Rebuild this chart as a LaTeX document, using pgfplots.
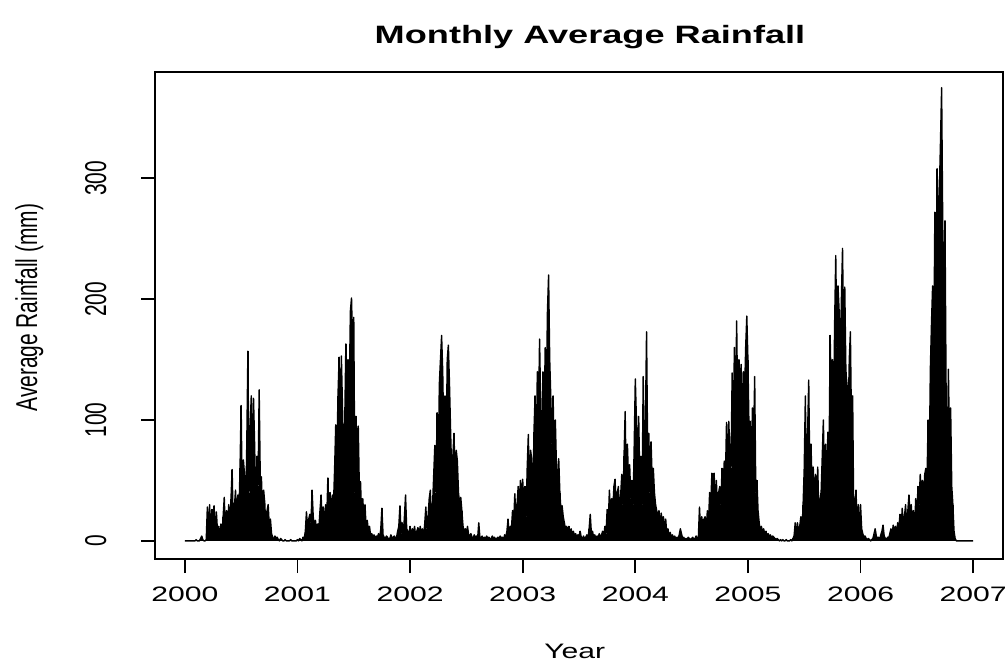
\documentclass[border=0pt]{standalone}
\usepackage{fontspec}
\setmainfont{Liberation Sans}
\usepackage{graphicx}
\usepackage{pgfplots}
\usepackage{pgfplotstable}
\pgfplotsset{compat=1.18}

% R-style device text is set wide
\newcommand\wide[1]{\scalebox{1.44}[1]{#1}}
\newcommand\tall[1]{\scalebox{1}[1.44]{#1}}

% Rainfall (mm), one value every 0.01 year from 2000.00 to 2007.00
\pgfplotstableread[row sep=\\]{
mm\\
0\\ 0\\ 0\\ 0\\ 0\\ 0\\ 0\\ 0\\ 0\\ 0\\
1\\ 0\\ 0\\ 0\\ 2\\ 4\\ 1\\ 0\\ 0\\ 1\\
28\\ 6\\ 30\\ 4\\ 26\\ 10\\ 29\\ 3\\ 24\\ 8\\
12\\ 2\\ 14\\ 5\\ 20\\ 36\\ 8\\ 25\\ 14\\ 30\\
10\\ 35\\ 59\\ 12\\ 28\\ 42\\ 15\\ 38\\ 20\\ 60\\
112\\ 30\\ 67\\ 55\\ 18\\ 80\\ 157\\ 40\\ 95\\ 120\\
60\\ 118\\ 78\\ 25\\ 70\\ 45\\ 125\\ 50\\ 53\\ 20\\
42\\ 31\\ 8\\ 25\\ 30\\ 12\\ 18\\ 6\\ 3\\ 1\\
4\\ 2\\ 3\\ 1\\ 0\\ 2\\ 1\\ 0\\ 0\\ 1\\
0\\ 0\\ 0\\ 0\\ 1\\ 0\\ 0\\ 0\\ 0\\ 0\\
1\\ 0\\ 2\\ 1\\ 0\\ 3\\ 2\\ 8\\ 24\\ 10\\
18\\ 22\\ 15\\ 42\\ 20\\ 12\\ 17\\ 8\\ 14\\ 10\\
25\\ 38\\ 15\\ 28\\ 10\\ 30\\ 18\\ 52\\ 22\\ 40\\
20\\ 38\\ 30\\ 60\\ 96\\ 70\\ 120\\ 152\\ 90\\ 153\\
110\\ 60\\ 100\\ 163\\ 130\\ 150\\ 120\\ 190\\ 201\\ 160\\
185\\ 40\\ 103\\ 70\\ 95\\ 40\\ 49\\ 20\\ 35\\ 18\\
30\\ 10\\ 17\\ 8\\ 12\\ 4\\ 6\\ 3\\ 5\\ 2\\
4\\ 3\\ 6\\ 2\\ 10\\ 27\\ 5\\ 3\\ 2\\ 4\\
3\\ 1\\ 2\\ 5\\ 2\\ 3\\ 4\\ 2\\ 3\\ 8\\
12\\ 29\\ 6\\ 15\\ 4\\ 20\\ 38\\ 10\\ 8\\ 5\\
12\\ 4\\ 10\\ 6\\ 12\\ 3\\ 8\\ 11\\ 5\\ 12\\
6\\ 10\\ 4\\ 14\\ 28\\ 10\\ 20\\ 35\\ 42\\ 15\\
30\\ 55\\ 79\\ 40\\ 106\\ 60\\ 130\\ 150\\ 170\\ 140\\
80\\ 120\\ 70\\ 150\\ 162\\ 130\\ 90\\ 55\\ 70\\ 89\\
50\\ 75\\ 66\\ 40\\ 30\\ 36\\ 25\\ 12\\ 8\\ 10\\
6\\ 12\\ 5\\ 4\\ 6\\ 3\\ 2\\ 5\\ 3\\ 4\\
2\\ 15\\ 3\\ 2\\ 4\\ 1\\ 3\\ 2\\ 4\\ 2\\
3\\ 1\\ 2\\ 4\\ 2\\ 3\\ 1\\ 2\\ 3\\ 2\\
4\\ 2\\ 3\\ 1\\ 5\\ 3\\ 8\\ 18\\ 4\\ 12\\
10\\ 25\\ 15\\ 39\\ 20\\ 30\\ 45\\ 28\\ 50\\ 35\\
51\\ 30\\ 45\\ 20\\ 60\\ 88\\ 40\\ 75\\ 68\\ 30\\
90\\ 120\\ 60\\ 140\\ 100\\ 167\\ 110\\ 70\\ 140\\ 95\\
160\\ 120\\ 190\\ 220\\ 150\\ 117\\ 80\\ 120\\ 70\\ 100\\
60\\ 50\\ 68\\ 40\\ 25\\ 29\\ 20\\ 15\\ 10\\ 12\\
8\\ 12\\ 6\\ 10\\ 5\\ 8\\ 4\\ 6\\ 3\\ 5\\
4\\ 8\\ 3\\ 2\\ 4\\ 2\\ 3\\ 5\\ 2\\ 10\\
22\\ 6\\ 8\\ 3\\ 5\\ 2\\ 4\\ 3\\ 6\\ 2\\
5\\ 8\\ 3\\ 12\\ 6\\ 26\\ 15\\ 42\\ 20\\ 35\\
25\\ 45\\ 51\\ 30\\ 40\\ 45\\ 20\\ 38\\ 55\\ 30\\
70\\ 107\\ 40\\ 80\\ 50\\ 63\\ 35\\ 50\\ 30\\ 77\\
134\\ 100\\ 60\\ 103\\ 50\\ 70\\ 30\\ 136\\ 60\\ 100\\
173\\ 70\\ 89\\ 40\\ 82\\ 50\\ 60\\ 40\\ 30\\ 25\\
20\\ 25\\ 12\\ 23\\ 15\\ 20\\ 8\\ 18\\ 5\\ 10\\
4\\ 7\\ 3\\ 5\\ 2\\ 4\\ 1\\ 3\\ 2\\ 5\\
10\\ 6\\ 2\\ 3\\ 1\\ 2\\ 1\\ 3\\ 2\\ 1\\
2\\ 3\\ 1\\ 2\\ 4\\ 2\\ 3\\ 28\\ 8\\ 20\\
12\\ 18\\ 20\\ 10\\ 25\\ 15\\ 40\\ 30\\ 56\\ 20\\
56\\ 30\\ 50\\ 25\\ 40\\ 45\\ 30\\ 60\\ 45\\ 66\\
50\\ 98\\ 60\\ 99\\ 72\\ 60\\ 139\\ 90\\ 160\\ 110\\
182\\ 100\\ 150\\ 130\\ 146\\ 90\\ 140\\ 120\\ 160\\ 186\\
150\\ 90\\ 99\\ 60\\ 110\\ 80\\ 136\\ 40\\ 50\\ 25\\
15\\ 8\\ 12\\ 6\\ 10\\ 5\\ 8\\ 4\\ 6\\ 3\\
5\\ 2\\ 4\\ 3\\ 2\\ 1\\ 2\\ 1\\ 0\\ 1\\
0\\ 1\\ 0\\ 0\\ 1\\ 0\\ 0\\ 0\\ 1\\ 0\\
2\\ 4\\ 15\\ 3\\ 15\\ 6\\ 12\\ 20\\ 8\\ 30\\
60\\ 120\\ 40\\ 90\\ 133\\ 50\\ 80\\ 45\\ 61\\ 30\\
55\\ 35\\ 61\\ 20\\ 34\\ 40\\ 70\\ 100\\ 45\\ 80\\
50\\ 90\\ 60\\ 170\\ 120\\ 150\\ 100\\ 180\\ 236\\ 160\\
211\\ 190\\ 150\\ 200\\ 242\\ 170\\ 210\\ 140\\ 129\\ 100\\
150\\ 173\\ 90\\ 120\\ 15\\ 30\\ 42\\ 10\\ 30\\ 5\\
30\\ 10\\ 6\\ 3\\ 4\\ 2\\ 1\\ 2\\ 1\\ 0\\
1\\ 2\\ 6\\ 10\\ 4\\ 2\\ 3\\ 1\\ 5\\ 8\\
13\\ 4\\ 2\\ 1\\ 3\\ 2\\ 6\\ 10\\ 5\\ 13\\
8\\ 12\\ 6\\ 15\\ 10\\ 22\\ 8\\ 27\\ 15\\ 20\\
30\\ 12\\ 25\\ 38\\ 20\\ 30\\ 15\\ 25\\ 10\\ 35\\
20\\ 45\\ 30\\ 55\\ 40\\ 50\\ 35\\ 55\\ 60\\ 48\\
100\\ 60\\ 142\\ 180\\ 211\\ 150\\ 272\\ 200\\ 308\\ 250\\
290\\ 330\\ 375\\ 260\\ 200\\ 265\\ 120\\ 60\\ 142\\ 80\\
110\\ 45\\ 30\\ 8\\ 2\\ 0\\ 0\\ 0\\ 0\\ 0\\
0\\ 0\\ 0\\ 0\\ 0\\ 0\\ 0\\ 0\\ 0\\ 0\\
0\\
}\rain

\begin{document}
\begin{tikzpicture}
\useasboundingbox (0,0) rectangle (503bp,330bp);
\begin{axis}[
  at={(77.5bp,50.5bp)}, anchor=south west,
  scale only axis, width=424bp, height=243.5bp,
  xmin=1999.735, xmax=2007.265, ymin=-15, ymax=388,
  axis line style={line width=0.9bp},
  tick style={line width=0.9bp, black},
  tick align=outside, major tick length=7bp,
  xtick pos=lower, ytick pos=left,
  xtick={2000,2001,2002,2003,2004,2005,2006,2007},
  xticklabels={\wide{2000},\wide{2001},\wide{2002},\wide{2003},\wide{2004},\wide{2005},\wide{2006},\wide{2007}},
  ytick={0,100,200,300},
  yticklabels={\tall{0},\tall{100},\tall{200},\tall{300}},
  ticklabel style={font=\fontsize{10.5}{12.6}\selectfont},
  xticklabel style={anchor=base, yshift=-14bp},
  yticklabel style={xshift=-17.5bp, rotate=90, anchor=base},
  title={\wide{\bfseries Monthly Average Rainfall}},
  title style={at={(0.513,1.033)}, anchor=base, yshift=0pt,
    font=\fontsize{12.6}{15}\selectfont},
  xlabel={\wide{Year}},
  xlabel style={at={(axis description cs:0.495,0)}, anchor=base,
    yshift=-49.5bp, font=\fontsize{10.5}{12.6}\selectfont},
  ylabel={\tall{Average Rainfall (mm)}},
  ylabel style={at={(axis description cs:-0.139,0.516)}, anchor=base,
    rotate=0, font=\fontsize{10.5}{12.6}\selectfont},
]
% the daily trace: spikes from zero plus the joined line
\addplot[black, ycomb, line width=0.65bp]
  table[x expr={2000+\coordindex/100}, y=mm]{\rain};
\addplot[black, line width=0.7bp, line join=round]
  table[x expr={2000+\coordindex/100}, y=mm]{\rain};
\end{axis}
\end{tikzpicture}
\end{document}
